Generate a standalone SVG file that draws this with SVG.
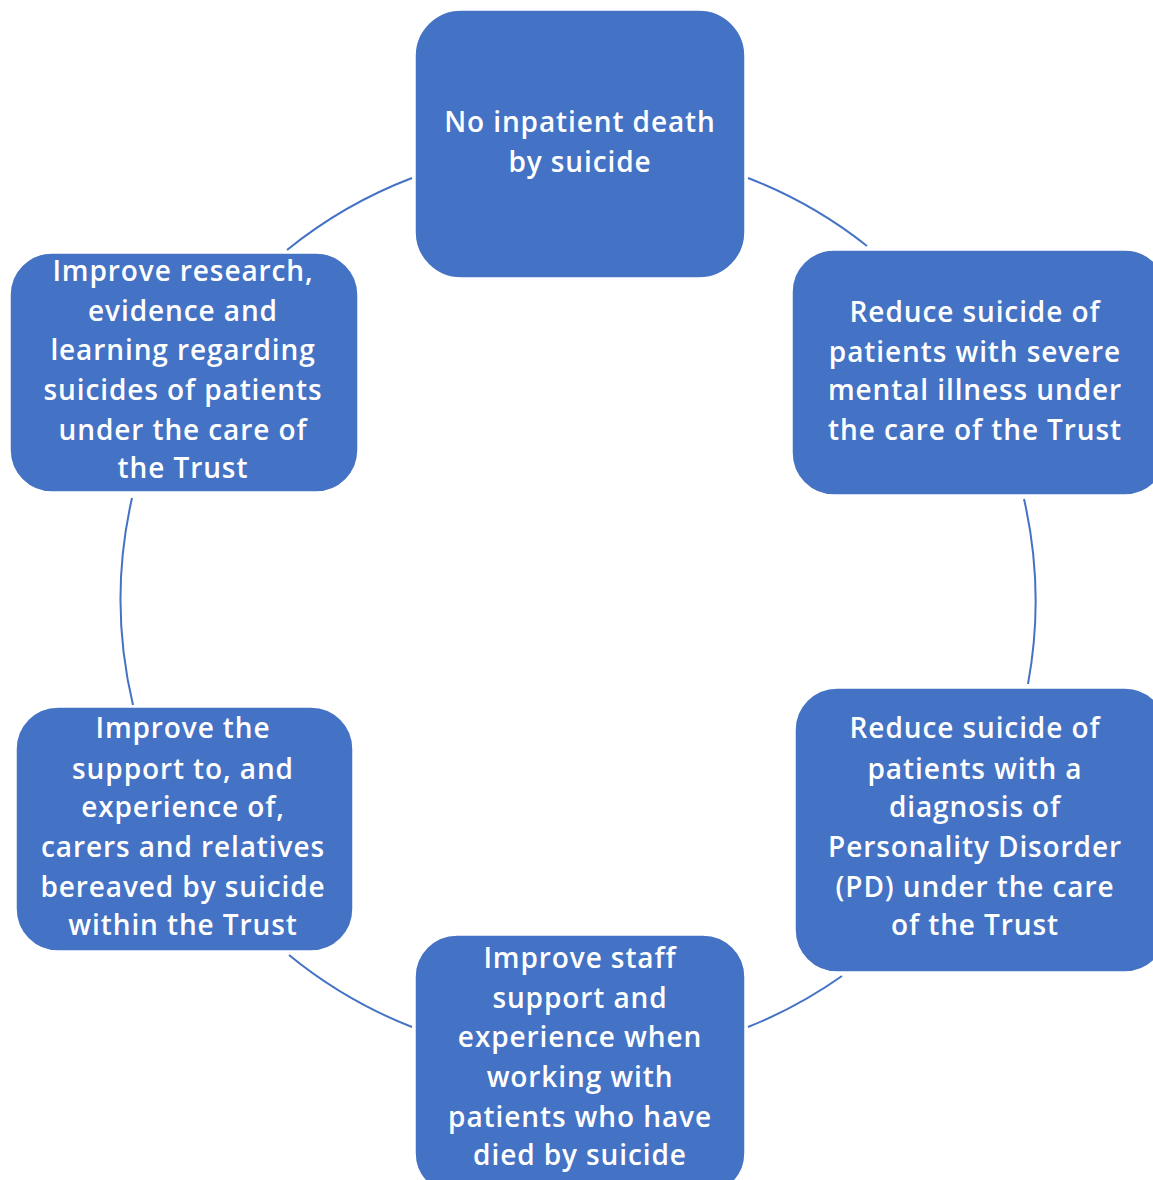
<svg xmlns="http://www.w3.org/2000/svg" width="1153" height="1180" viewBox="0 0 1153 1180">
<style>
.box{fill:#4472c4;stroke:#ffffff;stroke-width:1.5}
.lbl{font-family:"Open Sans","Liberation Sans",sans-serif;font-size:28px;font-weight:600;letter-spacing:0.9px;fill:#ffffff;text-anchor:middle}
.arc{fill:none;stroke:#4472c4;stroke-width:2}
</style>
<rect width="1153" height="1180" fill="#ffffff"/>
<g id="connectors">
<path class="arc" d="M748,178 A457,457 0 0 1 867,246"/>
<path class="arc" d="M1024,499 A457,457 0 0 1 1028,684"/>
<path class="arc" d="M842,976 A457,457 0 0 1 748,1027"/>
<path class="arc" d="M412,1027 A457,457 0 0 1 289,955"/>
<path class="arc" d="M133,705 A457,457 0 0 1 132,498"/>
<path class="arc" d="M287,250 A457,457 0 0 1 412,178"/>
</g>
<g id="node-top">
<rect class="box" x="415" y="10" width="330" height="268" rx="46"/>
<text class="lbl" x="580" y="132">No inpatient death</text>
<text class="lbl" x="580" y="172">by suicide</text>
</g>
<g id="node-top-right">
<rect class="box" x="792" y="250" width="375" height="245" rx="42"/>
<text class="lbl" x="975" y="322">Reduce suicide of</text>
<text class="lbl" x="975" y="362">patients with severe</text>
<text class="lbl" x="975" y="400">mental illness under</text>
<text class="lbl" x="975" y="440">the care of the Trust</text>
</g>
<g id="node-bottom-right">
<rect class="box" x="795" y="688" width="372" height="284" rx="42"/>
<text class="lbl" x="975" y="738">Reduce suicide of</text>
<text class="lbl" x="975" y="779">patients with a</text>
<text class="lbl" x="975" y="817">diagnosis of</text>
<text class="lbl" x="975" y="857">Personality Disorder</text>
<text class="lbl" x="975" y="897">(PD) under the care</text>
<text class="lbl" x="975" y="935">of the Trust</text>
</g>
<g id="node-bottom">
<rect class="box" x="415" y="935" width="330" height="260" rx="42"/>
<text class="lbl" x="580" y="968">Improve staff</text>
<text class="lbl" x="580" y="1008">support and</text>
<text class="lbl" x="580" y="1047">experience when</text>
<text class="lbl" x="580" y="1087">working with</text>
<text class="lbl" x="580" y="1127">patients who have</text>
<text class="lbl" x="580" y="1165">died by suicide</text>
</g>
<g id="node-bottom-left">
<rect class="box" x="16" y="707" width="337" height="244" rx="42"/>
<text class="lbl" x="183" y="738">Improve the</text>
<text class="lbl" x="183" y="779">support to, and</text>
<text class="lbl" x="183" y="817">experience of,</text>
<text class="lbl" x="183" y="857">carers and relatives</text>
<text class="lbl" x="183" y="897">bereaved by suicide</text>
<text class="lbl" x="183" y="935">within the Trust</text>
</g>
<g id="node-top-left">
<rect class="box" x="10" y="253" width="348" height="239" rx="42"/>
<text class="lbl" x="183" y="281">Improve research,</text>
<text class="lbl" x="183" y="321">evidence and</text>
<text class="lbl" x="183" y="360">learning regarding</text>
<text class="lbl" x="183" y="400">suicides of patients</text>
<text class="lbl" x="183" y="440">under the care of</text>
<text class="lbl" x="183" y="478">the Trust</text>
</g>
</svg>
